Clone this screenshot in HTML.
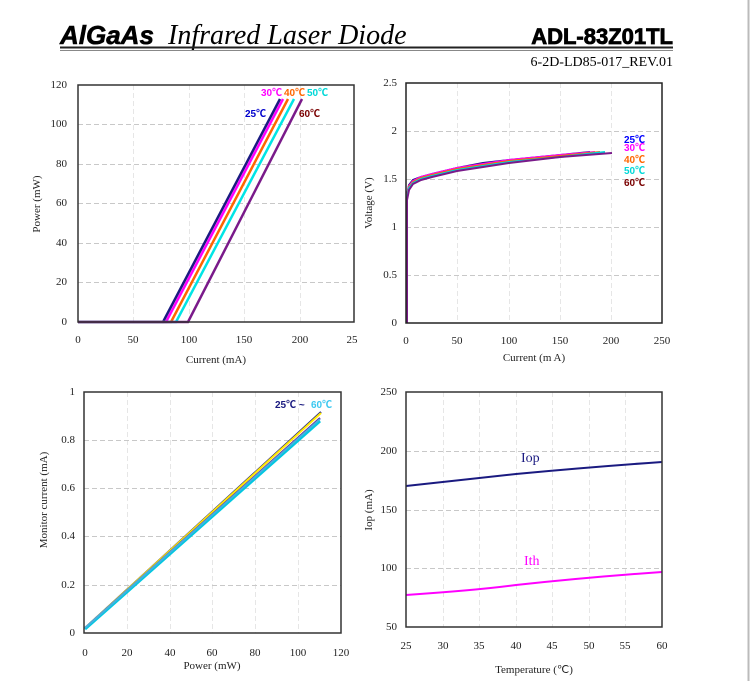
<!DOCTYPE html>
<html><head><meta charset="utf-8"><style>
body{margin:0;background:#fff;width:752px;height:681px;overflow:hidden}
svg{display:block}
.t{font-family:"Liberation Serif",serif;font-size:11px;fill:#222}
.s{font-family:"Liberation Sans","Noto Sans CJK SC",sans-serif;font-weight:bold;font-size:10px}
.g{stroke:#c8c8c8;stroke-dasharray:5,3;stroke-width:1}
.gv{stroke:#e6e6e6;stroke-dasharray:5,3;stroke-width:1}
</style></head><body>
<svg width="752" height="681" xmlns="http://www.w3.org/2000/svg">
<line x1="748.5" y1="0" x2="748.5" y2="681" stroke="#bbb" stroke-width="2"/>
<text x="60" y="44" font-family="Liberation Sans,sans-serif" font-weight="bold" font-style="italic" font-size="26" fill="#000" stroke="#000" stroke-width="0.6">AlGaAs</text>
<text x="168" y="44" font-family="Liberation Serif,serif" font-style="italic" font-size="28" fill="#000">Infrared Laser Diode</text>
<text x="673" y="44" text-anchor="end" font-family="Liberation Sans,sans-serif" font-weight="bold" font-size="22" fill="#000" stroke="#000" stroke-width="0.8">ADL-83Z01TL</text>
<line x1="60" y1="47.5" x2="673" y2="47.5" stroke="#222" stroke-width="2"/>
<line x1="60" y1="50.5" x2="673" y2="50.5" stroke="#888" stroke-width="1"/>
<text x="673" y="66" text-anchor="end" font-family="Liberation Serif,serif" font-size="14" fill="#000">6-2D-LD85-017_REV.01</text>

<!-- Chart 1 -->
<g>
<line class="gv" x1="133.5" y1="85" x2="133.5" y2="322"/><line class="gv" x1="189.5" y1="85" x2="189.5" y2="322"/><line class="gv" x1="244.5" y1="85" x2="244.5" y2="322"/><line class="gv" x1="300.5" y1="85" x2="300.5" y2="322"/>
<line class="g" x1="78" y1="124.5" x2="354" y2="124.5"/><line class="g" x1="78" y1="164.5" x2="354" y2="164.5"/><line class="g" x1="78" y1="203.5" x2="354" y2="203.5"/><line class="g" x1="78" y1="243.5" x2="354" y2="243.5"/><line class="g" x1="78" y1="282.5" x2="354" y2="282.5"/>
<g stroke-width="2.5" fill="none">
<polyline stroke="#1a1a80" points="78,322 163,322 280,99"/>
<polyline stroke="#ff00ff" points="78,322 166,322 283,99"/>
<polyline stroke="#ff6600" points="78,322 171,322 288,99"/>
<polyline stroke="#00e5e5" points="78,322 176,322 294,99"/>
<polyline stroke="#7a1a8a" points="78,322 188,322 302,99"/>
</g>
<rect x="78" y="85" width="276" height="237" fill="none" stroke="#333" stroke-width="1.5"/>
<g class="t" text-anchor="end"><text x="67" y="88">120</text><text x="67" y="127">100</text><text x="67" y="167">80</text><text x="67" y="206">60</text><text x="67" y="246">40</text><text x="67" y="285">20</text><text x="67" y="325">0</text></g>
<g class="t" text-anchor="middle"><text x="78" y="343">0</text><text x="133" y="343">50</text><text x="189" y="343">100</text><text x="244" y="343">150</text><text x="300" y="343">200</text><text x="352" y="343">25</text></g>
<text class="t" x="216" y="363" text-anchor="middle">Current (mA)</text>
<text class="t" transform="translate(40,204) rotate(-90)" text-anchor="middle">Power (mW)</text>
<text class="s" x="261" y="96" fill="#ff00ff">30℃</text><text class="s" x="284" y="96" fill="#ff6600">40℃</text><text class="s" x="307" y="96" fill="#00d8d8">50℃</text>
<text class="s" x="245" y="117" fill="#0000cc">25℃</text><text class="s" x="299" y="117" fill="#7a0000">60℃</text>
</g>

<!-- Chart 2 -->
<g>
<line class="gv" x1="457.5" y1="83" x2="457.5" y2="323"/><line class="gv" x1="509.5" y1="83" x2="509.5" y2="323"/><line class="gv" x1="560.5" y1="83" x2="560.5" y2="323"/><line class="gv" x1="611.5" y1="83" x2="611.5" y2="323"/>
<line class="g" x1="406" y1="131.5" x2="662" y2="131.5"/><line class="g" x1="406" y1="179.5" x2="662" y2="179.5"/><line class="g" x1="406" y1="227.5" x2="662" y2="227.5"/><line class="g" x1="406" y1="275.5" x2="662" y2="275.5"/>
<g stroke-width="2" fill="none">
<polyline stroke="#1a1a80" points="407,323 407,195 409,185 413,180 421,177 432,174 457,168 483,163 509,160 560,155 590,152"/>
<polyline stroke="#ff00ff" points="407,323 407,196 409,186 413,181 421,177 432,174 457,168 483,164 509,160 560,155 595,152"/>
<polyline stroke="#ff6600" points="407,323 407,197 409,187 413,182 421,178 432,175 457,169 483,165 509,161 560,156 600,152"/>
<polyline stroke="#00d8d8" points="407,323 407,198 409,188 413,183 421,179 432,176 457,170 483,166 509,162 560,157 605,152"/>
<polyline stroke="#7a1a8a" points="407,323 407,200 409,190 413,184 421,180 432,177 457,171 483,167 509,163 560,157 612,153"/>
</g>
<rect x="406" y="83" width="256" height="240" fill="none" stroke="#222" stroke-width="1.5"/>
<g class="t" text-anchor="end"><text x="397" y="86">2.5</text><text x="397" y="134">2</text><text x="397" y="182">1.5</text><text x="397" y="230">1</text><text x="397" y="278">0.5</text><text x="397" y="326">0</text></g>
<g class="t" text-anchor="middle"><text x="406" y="344">0</text><text x="457" y="344">50</text><text x="509" y="344">100</text><text x="560" y="344">150</text><text x="611" y="344">200</text><text x="662" y="344">250</text></g>
<text class="t" x="534" y="361" text-anchor="middle">Current (m A)</text>
<text class="t" transform="translate(372,203) rotate(-90)" text-anchor="middle">Voltage (V)</text>
<text class="s" x="624" y="143" fill="#0000ff">25℃</text><text class="s" x="624" y="151" fill="#ff00ff">30℃</text><text class="s" x="624" y="163" fill="#ff6600">40℃</text><text class="s" x="624" y="174" fill="#00d8d8">50℃</text><text class="s" x="624" y="186" fill="#7a0000">60℃</text>
</g>

<!-- Chart 3 -->
<g>
<line class="gv" x1="127.5" y1="392" x2="127.5" y2="633"/><line class="gv" x1="170.5" y1="392" x2="170.5" y2="633"/><line class="gv" x1="212.5" y1="392" x2="212.5" y2="633"/><line class="gv" x1="255.5" y1="392" x2="255.5" y2="633"/><line class="gv" x1="298.5" y1="392" x2="298.5" y2="633"/>
<line class="g" x1="84" y1="440.5" x2="341" y2="440.5"/><line class="g" x1="84" y1="488.5" x2="341" y2="488.5"/><line class="g" x1="84" y1="536.5" x2="341" y2="536.5"/><line class="g" x1="84" y1="585.5" x2="341" y2="585.5"/>
<g stroke-width="2" fill="none">
<polyline stroke="#1a1a80" points="85,628 321,412"/>
<polyline stroke="#ffea00" points="85,628 321,413"/>
<polyline stroke="#7a1a8a" points="85,628 320,418"/>
<polyline stroke="#00c8e0" stroke-width="3" points="85,629 320,421"/>
<polyline stroke="#44b0e0" points="85,628 320,419"/>
</g>
<rect x="84" y="392" width="257" height="241" fill="none" stroke="#333" stroke-width="1.5"/>
<g class="t" text-anchor="end"><text x="75" y="395">1</text><text x="75" y="443">0.8</text><text x="75" y="491">0.6</text><text x="75" y="539">0.4</text><text x="75" y="588">0.2</text><text x="75" y="636">0</text></g>
<g class="t" text-anchor="middle"><text x="85" y="656">0</text><text x="127" y="656">20</text><text x="170" y="656">40</text><text x="212" y="656">60</text><text x="255" y="656">80</text><text x="298" y="656">100</text><text x="341" y="656">120</text></g>
<text class="t" x="212" y="669" text-anchor="middle">Power (mW)</text>
<text class="t" transform="translate(47,500) rotate(-90)" text-anchor="middle">Monitor current (mA)</text>
<text class="s" x="275" y="408" fill="#1a1a80">25℃ ~ </text><text class="s" x="311" y="408" fill="#3cc8f0">60℃</text>
</g>

<!-- Chart 4 -->
<g>
<line class="gv" x1="443.5" y1="392" x2="443.5" y2="627"/><line class="gv" x1="479.5" y1="392" x2="479.5" y2="627"/><line class="gv" x1="516.5" y1="392" x2="516.5" y2="627"/><line class="gv" x1="552.5" y1="392" x2="552.5" y2="627"/><line class="gv" x1="589.5" y1="392" x2="589.5" y2="627"/><line class="gv" x1="625.5" y1="392" x2="625.5" y2="627"/>
<line class="g" x1="406" y1="451.5" x2="662" y2="451.5"/><line class="g" x1="406" y1="510.5" x2="662" y2="510.5"/><line class="g" x1="406" y1="568.5" x2="662" y2="568.5"/>
<path d="M406,486 Q480,478 516,474 Q590,467 662,462" stroke="#1a1a80" stroke-width="2" fill="none"/>
<path d="M406,595 Q480,590 516,585 Q590,577 662,572" stroke="#ff00ff" stroke-width="2" fill="none"/>
<rect x="406" y="392" width="256" height="235" fill="none" stroke="#333" stroke-width="1.5"/>
<g class="t" text-anchor="end"><text x="397" y="395">250</text><text x="397" y="454">200</text><text x="397" y="513">150</text><text x="397" y="571">100</text><text x="397" y="630">50</text></g>
<g class="t" text-anchor="middle"><text x="406" y="649">25</text><text x="443" y="649">30</text><text x="479" y="649">35</text><text x="516" y="649">40</text><text x="552" y="649">45</text><text x="589" y="649">50</text><text x="625" y="649">55</text><text x="662" y="649">60</text></g>
<text class="t" x="534" y="673" text-anchor="middle">Temperature (℃)</text>
<text class="t" transform="translate(372,510) rotate(-90)" text-anchor="middle">Iop (mA)</text>
<text x="521" y="462" font-family="Liberation Serif,serif" font-size="14" fill="#1a1a80">Iop</text>
<text x="524" y="565" font-family="Liberation Serif,serif" font-size="14" fill="#ff00ff">Ith</text>
</g>
</svg>
</body></html>
